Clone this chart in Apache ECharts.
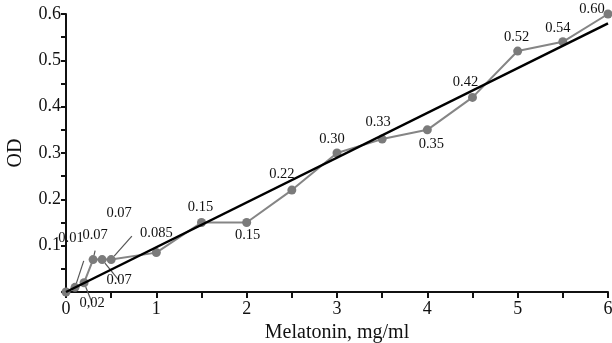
<!DOCTYPE html>
<html><head><meta charset="utf-8">
<script src="https://cdn.jsdelivr.net/npm/echarts@6/dist/echarts.min.js"></script>
<style>html,body{margin:0;padding:0;background:#fff}#c{width:612px;height:343px}</style>
</head><body><div id="c"></div>
<script>
// Data
const concentrations = [0, 0.1, 0.2, 0.3, 0.4, 0.5, 1, 1.5, 2, 2.5, 3, 3.5, 4, 4.5, 5, 5.5, 6];
const odValues       = [0, 0.01, 0.02, 0.07, 0.07, 0.07, 0.085, 0.15, 0.15, 0.22, 0.30, 0.33, 0.35, 0.42, 0.52, 0.54, 0.60];
const pointLabels    = ['', '0.01', '0,02', '0.07', '0.07', '0.07', '0.085', '0.15', '0.15', '0.22', '0.30', '0.33', '0.35', '0.42', '0.52', '0.54', '0.60'];
const fitX = [0, 6];
const fitY = [0, 0.58];
const xTicks = [0, 1, 2, 3, 4, 5, 6];
const yTicks = [0.1, 0.2, 0.3, 0.4, 0.5, 0.6];

// label placement (styling only)
const labelPlace = [
  null,
  {pos:'top', off:[-4,-32], line:true},
  {pos:'bottom', off:[8,3], line:true},
  {pos:'top', off:[2,-7], line:true},
  {pos:'bottom', off:[17,4], line:true},
  {pos:'top', off:[8,-29], line:true},
  {pos:'top', off:[0,-2]},
  {pos:'top', off:[-1,2]},
  {pos:'bottom', off:[1,-4]},
  {pos:'top', off:[-10,1]},
  {pos:'top', off:[-5,3]},
  {pos:'top', off:[-4,0]},
  {pos:'bottom', off:[4,-3]},
  {pos:'top', off:[-7,2]},
  {pos:'top', off:[-1,3]},
  {pos:'top', off:[-5,3]},
  {pos:'top', off:[-16,12]}
];

const FONT = 'Liberation Serif';
const dataPoints = concentrations.map((x, i) => {
  const p = labelPlace[i];
  const item = {value: [x, odValues[i]]};
  if (p) {
    item.label = {show: true, position: p.pos, offset: p.off, formatter: pointLabels[i]};
    if (p.line) item.labelLine = {show: true, lineStyle: {color: '#555', width: 1.2}};
  } else {
    item.label = {show: false};
  }
  return item;
});

const chart = echarts.init(document.getElementById('c'));
chart.setOption({
  animation: false,
  backgroundColor: '#fff',
  grid: {left: 66, right: 4, top: 14, bottom: 51, containLabel: false, outerBoundsMode: 'none'},
  xAxis: {
    type: 'value', min: 0, max: 6, interval: 0.5,
    name: 'Melatonin, mg/ml', nameLocation: 'middle', nameGap: 29,
    nameTextStyle: {fontFamily: FONT, fontSize: 20, color: '#111'},
    axisLine: {show: true, lineStyle: {color: '#111', width: 2}},
    axisTick: {show: true, length: 6, lineStyle: {color: '#111', width: 2}},
    axisLabel: {
      fontFamily: FONT, fontSize: 18, color: '#111', margin: 8,
      formatter: v => xTicks.includes(v) ? String(v) : ''
    },
    splitLine: {show: false}
  },
  yAxis: {
    type: 'value', min: 0, max: 0.6, interval: 0.05,
    name: 'OD', nameLocation: 'middle', nameGap: 40,
    nameTextStyle: {fontFamily: FONT, fontSize: 20, color: '#111'},
    axisLine: {show: true, lineStyle: {color: '#111', width: 2}},
    axisTick: {show: true, length: 5, lineStyle: {color: '#111', width: 2}},
    axisLabel: {
      fontFamily: FONT, fontSize: 18, color: '#111', margin: 5,
      formatter: v => {
        const m = yTicks.find(t => Math.abs(t - v) < 1e-6);
        return m !== undefined ? m.toFixed(1) : '';
      }
    },
    splitLine: {show: false}
  },
  series: [
    {
      type: 'line', data: dataPoints,
      symbol: 'circle', symbolSize: 9,
      itemStyle: {color: '#7b7b7b'},
      lineStyle: {color: '#858585', width: 2},
      label: {fontFamily: FONT, fontSize: 14.5, color: '#111', distance: 5},
      z: 2
    },
    {
      type: 'line', data: fitX.map((x, i) => [x, fitY[i]]),
      symbol: 'none', lineStyle: {color: '#000', width: 2.5},
      z: 3, silent: true
    }
  ]
});
</script></body></html>
